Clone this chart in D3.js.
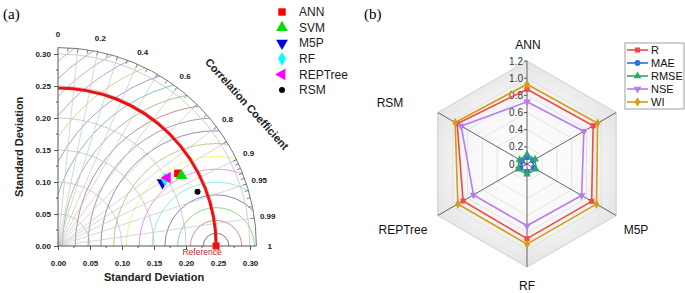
<!DOCTYPE html>
<html>
<head>
<meta charset="utf-8">
<script src="https://cdn.jsdelivr.net/npm/d3@7"></script>
<style>
  body { margin: 0; background: #fff; }
  svg { display: block; font-family: "Liberation Sans", Arial, sans-serif; }
</style>
</head>
<body>
<div id="chart"></div>
<script>
// ---- Data: Taylor diagram (a)
const models = ["ANN", "SVM", "M5P", "RF", "REPTree", "RSM"];
const modelStd = [0.219, 0.222, 0.191, 0.197, 0.2015, 0.234];
const modelCorr = [0.855, 0.869, 0.855, 0.849, 0.848, 0.932];
const refStd = 0.247;
const stdTicks = [0, 0.05, 0.10, 0.15, 0.20, 0.25, 0.30];
const corrLabels = [0, 0.2, 0.4, 0.6, 0.8, 0.9, 0.95, 0.99, 1];
const corrLines = [0.1, 0.2, 0.3, 0.4, 0.5, 0.6, 0.7, 0.8, 0.85, 0.9, 0.95, 0.99];

// ---- Data: radar (b)
const radarAxes = ["ANN", "SVM", "M5P", "RF", "REPTree", "RSM"];
const radarTicks = [0, 0.2, 0.4, 0.6, 0.8, 1.0, 1.2];
const seriesNames = ["R", "MAE", "RMSE", "NSE", "WI"];
const valR = [0.87, 0.89, 0.87, 0.87, 0.86, 0.94];
const valMAE = [0.08, 0.08, 0.09, 0.09, 0.09, 0.07];
const valRMSE = [0.11, 0.11, 0.12, 0.12, 0.12, 0.10];
const valNSE = [0.725, 0.765, 0.735, 0.72, 0.72, 0.885];
const valWI = [0.93, 0.95, 0.935, 0.934, 0.93, 0.967];

const W = 685, H = 293;
const svg = d3.select("#chart").append("svg").attr("width", W).attr("height", H);

svg.append("text").attr("x", 3).attr("y", 19)
  .style("font-family", "Liberation Serif, Times New Roman, serif").style("font-size", "15px").text("(a)");
svg.append("text").attr("x", 364).attr("y", 19)
  .style("font-family", "Liberation Serif, Times New Roman, serif").style("font-size", "15px").text("(b)");

// ================= Taylor diagram =================
const ox = 58, oy = 246, maxStd = 0.31;
const sx = d3.scaleLinear().domain([0, maxStd]).range([ox, ox + maxStd * 640]);
const sy = d3.scaleLinear().domain([0, maxStd]).range([oy, oy - maxStd * 640]);
const rpx = v => sx(v) - ox;
const pt = (s, c) => [sx(s * c), sy(s * Math.sqrt(Math.max(0, 1 - c * c)))];

const ta = svg.append("g");
svg.append("defs").append("clipPath").attr("id", "quarter")
  .append("path")
  .attr("d", `M${ox},${oy} L${ox + rpx(maxStd)},${oy} A${rpx(maxStd)},${rpx(maxStd)} 0 0 0 ${ox},${oy - rpx(maxStd)} Z`);

const grid = ta.append("g").attr("clip-path", "url(#quarter)");

// RMS contours around the reference
const rmsColors = ["#3a3a3a", "#c05a5a", "#5cc25c", "#4a4aa0", "#5ee0e0", "#d86ad8", "#eeee4a",
  "#aaa85a", "#5a5a9a", "#9a5a9a", "#a05a5a", "#7aa85a", "#4aa0a8", "#6a78c8", "#e0b060",
  "#b070d0", "#c080c0", "#8080c0", "#a0a060", "#60a0a0"];
const rmsRadii = d3.range(1, 21).map(k => k * 0.02);
rmsRadii.forEach((r, i) => {
  grid.append("circle")
    .attr("cx", sx(refStd)).attr("cy", oy).attr("r", rpx(r))
    .attr("fill", "none").attr("stroke", rmsColors[i]).attr("stroke-width", 0.8).attr("opacity", 0.85);
});

// std arcs around origin
stdTicks.slice(1).forEach(s => {
  grid.append("circle").attr("cx", ox).attr("cy", oy).attr("r", rpx(s))
    .attr("fill", "none").attr("stroke", "#b8b8b8").attr("stroke-width", 0.7);
});

// correlation rays
corrLines.forEach(c => {
  const [x2, y2] = pt(maxStd, c);
  grid.append("line").attr("x1", ox).attr("y1", oy).attr("x2", x2).attr("y2", y2)
    .attr("stroke", "#c4c4c4").attr("stroke-width", 0.7);
});

// reference std arc (thick red)
ta.append("path")
  .attr("d", `M${sx(refStd)},${oy} A${rpx(refStd)},${rpx(refStd)} 0 0 0 ${ox},${oy - rpx(refStd)}`)
  .attr("fill", "none").attr("stroke", "#ee1111").attr("stroke-width", 3);

// outer arc
ta.append("path")
  .attr("d", `M${sx(maxStd)},${oy} A${rpx(maxStd)},${rpx(maxStd)} 0 0 0 ${ox},${oy - rpx(maxStd)}`)
  .attr("fill", "none").attr("stroke", "#777").attr("stroke-width", 1);

// outer arc ticks
d3.range(0.05, 1.0, 0.05).concat([0.91, 0.92, 0.93, 0.94, 0.96, 0.97, 0.98, 0.99]).forEach(c => {
  const [x1, y1] = pt(maxStd, c);
  const [x2, y2] = pt(maxStd - 0.006, c);
  ta.append("line").attr("x1", x1).attr("y1", y1).attr("x2", x2).attr("y2", y2)
    .attr("stroke", "#666").attr("stroke-width", 0.8);
});

// correlation labels
corrLabels.forEach(c => {
  const [x, y] = pt(0.331, c);
  ta.append("text").attr("x", x).attr("y", y).attr("dy", "0.35em")
    .attr("text-anchor", "middle")
    .style("font-size", "8px").style("font-weight", "bold").style("fill", "#222")
    .text(c === 0 ? "0" : c === 1 ? "1" : String(c));
});

ta.append("text")
  .attr("transform", `translate(247,104) rotate(48)`)
  .attr("text-anchor", "middle").attr("dy", "0.35em")
  .style("font-size", "11px").style("font-weight", "bold").style("fill", "#222")
  .text("Correlation Coefficient");

// axes
const yAxis = d3.axisLeft(sy).tickValues(stdTicks).tickFormat(d3.format(".2f")).tickSize(4);
const xAxis = d3.axisBottom(sx).tickValues(stdTicks).tickFormat(d3.format(".2f")).tickSize(4).tickPadding(10);
const gy = ta.append("g").attr("transform", `translate(${ox},0)`).call(yAxis);
const gx = ta.append("g").attr("transform", `translate(0,${oy})`).call(xAxis);
[gy, gx].forEach(g => {
  g.select(".domain").attr("stroke", "#555");
  g.selectAll(".tick line").attr("stroke", "#555");
  g.selectAll("text").style("font-size", "8px").style("font-weight", "bold").style("fill", "#222")
    .style("font-family", "Liberation Sans, Arial, sans-serif");
});
gy.select(".domain").attr("d", `M-0,${sy(0)}V${sy(maxStd)}`);
gx.select(".domain").attr("d", `M${sx(0)},0H${sx(maxStd)}`);
d3.range(0.025, 0.31, 0.05).forEach(v => {
  ta.append("line").attr("x1", ox).attr("x2", ox - 2).attr("y1", sy(v)).attr("y2", sy(v)).attr("stroke", "#555");
  ta.append("line").attr("y1", oy).attr("y2", oy + 2).attr("x1", sx(v)).attr("x2", sx(v)).attr("stroke", "#555");
});

ta.append("text").attr("transform", `translate(23,${sy(0.155)}) rotate(-90)`)
  .attr("text-anchor", "middle")
  .style("font-size", "11px").style("font-weight", "bold").style("fill", "#222")
  .text("Standard Deviation");
ta.append("text").attr("x", sx(0.15)).attr("y", 281)
  .attr("text-anchor", "middle")
  .style("font-size", "11px").style("font-weight", "bold").style("fill", "#222")
  .text("Standard Deviation");

// reference point
ta.append("rect").attr("x", sx(refStd) - 3.5).attr("y", oy - 3.5).attr("width", 7).attr("height", 7).attr("fill", "#ee1111");
ta.append("text").attr("x", sx(refStd) - 14).attr("y", 255).attr("text-anchor", "middle")
  .style("font-size", "8.5px").style("fill", "#c0282a").text("Reference");

// model markers
const markerSym = [d3.symbolSquare, d3.symbolTriangle, d3.symbolTriangle, d3.symbolDiamond, d3.symbolTriangle, d3.symbolCircle];
const markerRot = [0, 0, 180, 0, -90, 0];
const markerCol = ["#ff0000", "#00e000", "#0000e0", "#00ffff", "#ff00ff", "#000000"];
const markerSize = [55, 60, 60, 55, 60, 28];
models.forEach((m, i) => {
  const [x, y] = pt(modelStd[i], modelCorr[i]);
  ta.append("path").attr("d", d3.symbol(markerSym[i], markerSize[i])())
    .attr("transform", `translate(${x},${y}) rotate(${markerRot[i]})`)
    .attr("fill", markerCol[i]);
});

// legend (a)
models.forEach((m, i) => {
  const y = 12 + i * 15.6;
  ta.append("path").attr("d", d3.symbol(markerSym[i], markerSize[i])())
    .attr("transform", `translate(282,${y}) rotate(${markerRot[i]})`)
    .attr("fill", markerCol[i]);
  ta.append("text").attr("x", 299).attr("y", y).attr("dy", "0.35em")
    .style("font-size", "12px").style("fill", "#222").text(m);
});

// ================= Radar chart =================
const cx = 527, cy = 164;
const rr = d3.scaleLinear().domain([0, 1.2]).range([0, 103]);
const ang = i => -Math.PI / 2 + i * Math.PI / 3;
const rp = (v, i) => [cx + rr(v) * Math.cos(ang(i)), cy + rr(v) * Math.sin(ang(i))];

const rb = svg.append("g");
const defs = svg.select("defs");
const grad = defs.append("radialGradient").attr("id", "rgrad")
  .attr("gradientUnits", "userSpaceOnUse").attr("cx", cx).attr("cy", cy).attr("r", 103);
grad.append("stop").attr("offset", "0%").attr("stop-color", "#ffffff");
grad.append("stop").attr("offset", "60%").attr("stop-color", "#f7f7f7");
grad.append("stop").attr("offset", "100%").attr("stop-color", "#e4e4e4");

const hex = v => d3.range(6).map(i => rp(v, i));
rb.append("polygon").attr("points", hex(1.2).map(p => p.join(",")).join(" "))
  .attr("fill", "url(#rgrad)");
d3.range(0.2, 1.21, 0.2).forEach(v => {
  rb.append("polygon").attr("points", hex(v).map(p => p.join(",")).join(" "))
    .attr("fill", "none").attr("stroke", "#dadada").attr("stroke-width", 0.7);
});
rb.append("polygon").attr("points", hex(1.2).map(p => p.join(",")).join(" "))
  .attr("fill", "none").attr("stroke", "#cfcfcf").attr("stroke-width", 0.8);
radarAxes.forEach((a, i) => {
  const [x, y] = rp(1.2, i);
  rb.append("line").attr("x1", cx).attr("y1", cy).attr("x2", x).attr("y2", y)
    .attr("stroke", "#555").attr("stroke-width", 0.9);
});

// axis ticks on top axis
radarTicks.forEach(t => {
  const y = cy - rr(t);
  rb.append("line").attr("x1", cx - 3).attr("x2", cx).attr("y1", y).attr("y2", y).attr("stroke", "#555");
  rb.append("text").attr("x", cx - 4).attr("y", y).attr("dy", "0.35em").attr("text-anchor", "end")
    .style("font-size", "10px").style("fill", "#333").text(d3.format(".1f")(t));
});

// axis labels (the SVM label sits under the legend box in the original)
const labelPos = [[528, 45], null, [636, 230], [527, 286], [403, 230], [390, 103]];
radarAxes.forEach((a, i) => {
  if (!labelPos[i]) return;
  rb.append("text").attr("x", labelPos[i][0]).attr("y", labelPos[i][1]).attr("dy", "0.35em")
    .attr("text-anchor", "middle").style("font-size", "12px").style("fill", "#111").text(a);
});

// series
const seriesVals = [valR, valMAE, valRMSE, valNSE, valWI];
const seriesCol = ["#f24848", "#2e6fe0", "#2ea86a", "#b67df0", "#d49d12"];
const seriesSym = [d3.symbolSquare, d3.symbolCircle, d3.symbolTriangle, d3.symbolTriangle, d3.symbolDiamond];
const seriesRot = [0, 0, 0, 180, 0];
const line = d3.line().curve(d3.curveLinearClosed);
seriesVals.forEach((vals, s) => {
  const pts = vals.map((v, i) => rp(v, i));
  rb.append("path").attr("d", line(pts)).attr("fill", "none")
    .attr("stroke", seriesCol[s]).attr("stroke-width", 1.6);
  pts.forEach(p => {
    rb.append("path").attr("d", d3.symbol(seriesSym[s], 26)())
      .attr("transform", `translate(${p[0]},${p[1]}) rotate(${seriesRot[s]})`)
      .attr("fill", seriesCol[s]);
  });
});

// legend (b)
const lg = rb.append("g");
lg.append("rect").attr("x", 625).attr("y", 43).attr("width", 59).attr("height", 66)
  .attr("fill", "#fff").attr("stroke", "#888").attr("stroke-width", 0.8);
seriesNames.forEach((n, s) => {
  const y = 50 + s * 13;
  lg.append("line").attr("x1", 627).attr("x2", 648).attr("y1", y).attr("y2", y)
    .attr("stroke", seriesCol[s]).attr("stroke-width", 1.6);
  lg.append("path").attr("d", d3.symbol(seriesSym[s], 26)())
    .attr("transform", `translate(637.5,${y}) rotate(${seriesRot[s]})`).attr("fill", seriesCol[s]);
  lg.append("text").attr("x", 651).attr("y", y).attr("dy", "0.35em")
    .style("font-size", "11px").style("fill", "#111").text(n);
});
</script>
</body>
</html>
